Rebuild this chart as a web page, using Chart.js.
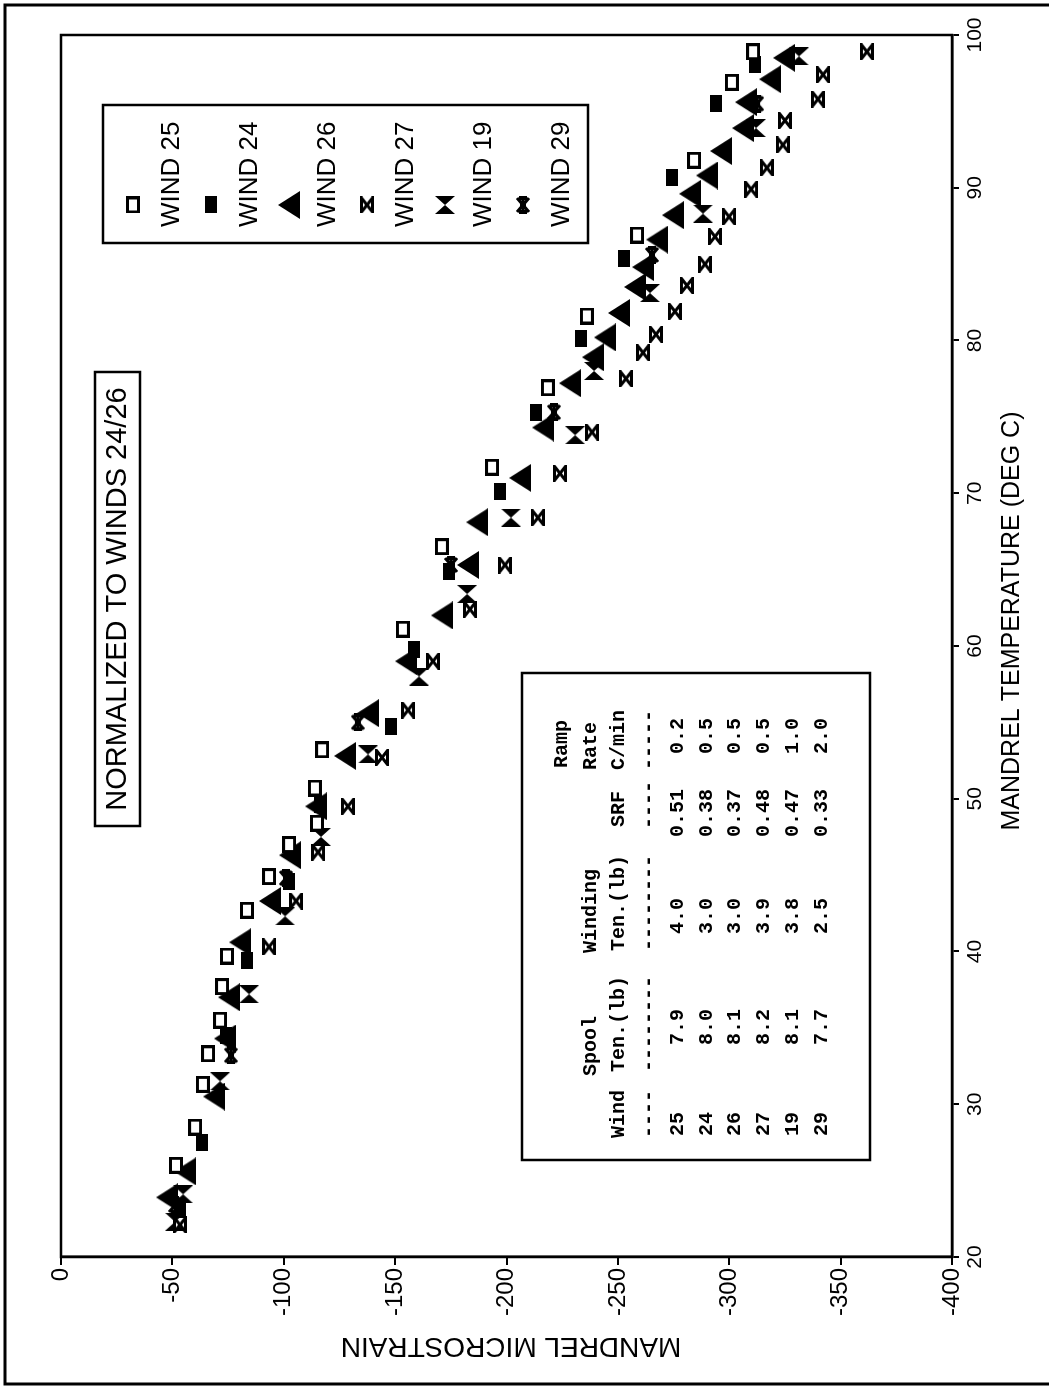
<!DOCTYPE html>
<html>
<head>
<meta charset="utf-8">
<script src="https://cdn.jsdelivr.net/npm/chart.js"></script>
<style>
  html, body { margin: 0; padding: 0; background: #fff; overflow: hidden; }
  /* chart is drawn upright, then the whole sheet is turned a quarter turn */
  #page { position: absolute; left: 0; top: 0; width: 1386px; height: 1049px;
          transform-origin: 0 0; transform: translateY(1386px) rotate(-90deg); }
</style>
</head>
<body>
<div id="page"><canvas id="Chart" width="1386" height="1049"></canvas></div>
<script>
// mandrel temperature (deg C) / mandrel microstrain per wind
const wind25Temp = [26.0, 28.5, 31.3, 33.3, 35.5, 37.7, 39.7, 42.7, 44.9, 47.0, 48.4, 50.7, 53.2, 61.1, 66.5, 71.7, 76.9, 81.6, 86.9, 91.8, 96.9, 98.9];
const wind25Strain = [-51.6, -60.2, -63.7, -66.0, -71.4, -72.3, -74.5, -83.5, -93.4, -102.4, -114.9, -114.0, -117.2, -153.5, -171.0, -193.5, -218.6, -236.1, -258.6, -284.2, -301.2, -310.7];

const wind24Temp = [23.1, 27.5, 34.5, 39.4, 44.6, 49.6, 54.7, 59.8, 64.9, 70.1, 75.3, 80.1, 85.4, 90.7, 95.5, 98.1];
const wind24Strain = [-53.4, -63.1, -74.1, -83.5, -102.4, -116.3, -148.1, -158.5, -174.2, -197.1, -213.2, -233.4, -252.7, -274.3, -294.0, -311.6];

const wind26Temp = [23.9, 25.6, 30.5, 34.3, 37.0, 40.6, 43.3, 46.3, 49.5, 52.8, 55.6, 59.0, 62.0, 65.3, 68.1, 71.0, 74.3, 77.2, 78.9, 80.2, 81.8, 83.5, 84.8, 86.6, 88.2, 89.6, 90.8, 92.4, 93.9, 95.6, 97.1, 98.5];
const wind26Strain = [-47.6, -55.7, -68.7, -73.6, -75.4, -80.4, -93.8, -102.8, -114.5, -127.5, -137.8, -154.9, -171.0, -182.7, -186.8, -206.1, -216.4, -228.5, -238.8, -244.2, -250.5, -257.7, -261.3, -267.6, -274.7, -282.4, -290.0, -296.3, -306.2, -307.5, -318.3, -324.6];

const wind27Temp = [22.1, 40.3, 43.3, 46.5, 49.5, 52.7, 55.8, 59.0, 62.4, 65.3, 68.4, 71.3, 74.0, 77.5, 79.2, 80.4, 81.9, 83.6, 85.0, 86.8, 88.1, 89.9, 91.3, 92.8, 94.4, 95.8, 97.4, 98.9];
const wind27Strain = [-53.4, -93.4, -105.5, -115.4, -128.8, -144.1, -155.8, -167.0, -183.6, -199.3, -214.1, -224.0, -238.4, -253.6, -261.3, -267.1, -275.6, -281.0, -289.1, -293.6, -299.9, -309.8, -316.9, -324.1, -325.0, -339.8, -342.1, -361.8];

const wind19Temp = [22.3, 24.1, 31.5, 37.2, 42.3, 47.5, 52.9, 58.0, 63.4, 68.4, 73.8, 78.0, 83.1, 88.3, 93.9, 98.6];
const wind19Strain = [-51.2, -54.8, -71.4, -84.4, -100.6, -116.7, -137.8, -160.7, -182.3, -202.0, -230.8, -239.3, -264.4, -288.2, -312.0, -331.3];

const wind29Temp = [23.4, 33.2, 44.8, 55.0, 65.3, 75.3, 85.6, 95.5];
const wind29Strain = [-51.2, -76.3, -101.0, -133.3, -175.1, -221.3, -265.3, -312.5];

const windLabels = ["WIND 25", "WIND 24", "WIND 26", "WIND 27", "WIND 19", "WIND 29"];
const tempTicks = [20, 30, 40, 50, 60, 70, 80, 90, 100];
const strainTicks = [0, -50, -100, -150, -200, -250, -300, -350, -400];

// inset table
const tableWind = ["25", "24", "26", "27", "19", "29"];
const tableSpool = ["7.9", "8.0", "8.1", "8.2", "8.1", "7.7"];
const tableWinding = ["4.0", "3.0", "3.0", "3.9", "3.8", "2.5"];
const tableSrf = ["0.51", "0.38", "0.37", "0.48", "0.47", "0.33"];
const tableRamp = ["0.2", "0.5", "0.5", "0.5", "1.0", "2.0"];

const noteText = "NORMALIZED TO WINDS 24/26";
const xTitle = "MANDREL TEMPERATURE (DEG C)";
const yTitle = "MANDREL MICROSTRAIN";

const SANS = '"Liberation Sans", Arial, sans-serif';
const MONO = '"Liberation Mono", "Courier New", monospace';

function marker(w, h, draw) {
  const c = document.createElement("canvas");
  c.width = w;
  c.height = h;
  const g = c.getContext("2d");
  g.fillStyle = "#000";
  g.strokeStyle = "#000";
  draw(g, w, h);
  return c;
}

const openSquare = marker(17, 14, (g, w, h) => {
  g.fillStyle = "#fff";
  g.fillRect(0, 0, w, h);
  g.lineWidth = 3;
  g.strokeRect(1.5, 1.5, w - 3, h - 3);
});
const filledSquare = marker(17, 12, (g, w, h) => g.fillRect(0, 0, w, h));
const triangle = marker(28, 22, (g, w, h) => {
  g.beginPath();
  g.moveTo(w / 2, 0);
  g.lineTo(w, h);
  g.lineTo(0, h);
  g.closePath();
  g.fill();
});
const hourglass = marker(17, 14, (g, w, h) => {
  g.lineWidth = 3;
  g.beginPath();
  g.moveTo(1.5, 1.5);
  g.lineTo(w - 1.5, 1.5);
  g.lineTo(1.5, h - 1.5);
  g.lineTo(w - 1.5, h - 1.5);
  g.closePath();
  g.fillStyle = "#fff";
  g.fill();
  g.stroke();
});
const bowtie = marker(18, 20, (g, w, h) => {
  g.beginPath();
  g.moveTo(0, 0);
  g.lineTo(w, h);
  g.lineTo(w, 0);
  g.lineTo(0, h);
  g.closePath();
  g.fill();
});
const asterisk = marker(18, 14, (g, w, h) => {
  g.lineWidth = 3;
  g.beginPath();
  g.moveTo(0, h / 2); g.lineTo(w, h / 2);
  g.moveTo(2, 1); g.lineTo(w - 2, h - 1);
  g.moveTo(w - 2, 1); g.lineTo(2, h - 1);
  g.stroke();
  g.fillRect(0, 3, 4, h - 6);
  g.fillRect(w - 4, 3, 4, h - 6);
  g.fillRect(w / 2 - 3, h / 2 - 3, 6, 6);
});

const markers = [openSquare, filledSquare, triangle, hourglass, bowtie, asterisk];
const temps = [wind25Temp, wind24Temp, wind26Temp, wind27Temp, wind19Temp, wind29Temp];
const strains = [wind25Strain, wind24Strain, wind26Strain, wind27Strain, wind19Strain, wind29Strain];

const datasets = windLabels.map((label, i) => ({
  label: label,
  data: temps[i].map((t, k) => ({ x: t, y: strains[i][k] })),
  pointStyle: markers[i],
  pointRadius: 8,
  showLine: false,
}));

const sheet = {
  id: "sheet",
  afterDraw(chart) {
    const ctx = chart.ctx;
    const a = chart.chartArea;
    ctx.save();
    ctx.strokeStyle = "#000";
    ctx.fillStyle = "#000";

    // plot frame
    ctx.lineWidth = 2.5;
    ctx.strokeRect(a.left, a.top, a.right - a.left, a.bottom - a.top);

    // outer sheet frame
    ctx.lineWidth = 3;
    ctx.beginPath();
    ctx.moveTo(2, 1049);
    ctx.lineTo(2, 5);
    ctx.lineTo(1381, 5);
    ctx.lineTo(1381, 1049);
    ctx.stroke();

    // axis titles
    ctx.textAlign = "center";
    ctx.textBaseline = "middle";
    ctx.font = "25px " + SANS;
    ctx.fillText(xTitle, 765, 1012);
    ctx.save();
    ctx.translate(40, 511);
    ctx.rotate(-Math.PI / 2);
    ctx.font = "28px " + SANS;
    ctx.fillText(yTitle, 0, 0);
    ctx.restore();

    // note box
    ctx.lineWidth = 2.5;
    ctx.strokeRect(560, 95, 454, 45);
    ctx.font = "29px " + SANS;
    ctx.fillText(noteText, 787, 118);

    // legend
    ctx.strokeRect(1143, 103, 138, 485);
    ctx.textAlign = "left";
    ctx.font = "26px " + SANS;
    chart.data.datasets.forEach((ds, i) => {
      const m = ds.pointStyle;
      const sy = 133 + i * 78;
      ctx.drawImage(m, 1181 - m.width / 2, sy - m.height / 2);
      ctx.fillText(ds.label, 1159, sy + 39);
    });

    // table
    ctx.strokeRect(226, 522, 487, 348);
    ctx.font = "bold 20px " + MONO;
    const put = (s, x, y) => ctx.fillText(s, x, y);
    put("Ramp", 618, 562);
    put("Spool", 310, 591);
    put("Winding", 433, 591);
    put("Rate", 616, 591);
    put("Wind", 248, 619);
    put("Ten.(lb)", 314, 619);
    put("Ten.(lb)", 435, 619);
    put("SRF", 559, 619);
    put("C/min", 616, 619);
    put("----", 248, 649);
    put("--------", 314, 649);
    put("--------", 435, 649);
    put("----", 557, 649);
    put("-----", 616, 649);
    const rowY = [678, 707, 735, 764, 793, 822];
    tableWind.forEach((w, r) => {
      put(w, 250, rowY[r]);
      put(tableSpool[r], 341, rowY[r]);
      put(tableWinding[r], 452, rowY[r]);
      put(tableSrf[r], 549, rowY[r]);
      put(tableRamp[r], 632, rowY[r]);
    });
    ctx.restore();
  },
};

new Chart(document.getElementById("Chart"), {
  type: "scatter",
  data: { datasets: datasets },
  plugins: [sheet],
  options: {
    responsive: false,
    animation: false,
    devicePixelRatio: 1,
    layout: { padding: { left: 0, top: 61, right: 35, bottom: 0 } },
    plugins: { legend: { display: false }, tooltip: { enabled: false } },
    scales: {
      x: {
        type: "linear",
        min: 20,
        max: 100,
        afterBuildTicks: (s) => { s.ticks = tempTicks.map((v) => ({ value: v })); },
        afterFit: (s) => { s.height = 97; },
        ticks: { color: "#000", font: { size: 21, family: SANS }, padding: 4, maxRotation: 0, autoSkip: false },
        grid: { drawOnChartArea: false, drawTicks: true, tickLength: 7, color: "#000", lineWidth: 2 },
        border: { display: true, color: "#000", width: 2.5 },
      },
      y: {
        type: "linear",
        min: -400,
        max: 0,
        afterBuildTicks: (s) => { s.ticks = strainTicks.map((v) => ({ value: v })); },
        afterFit: (s) => { s.width = 129; },
        ticks: { color: "#000", font: { size: 24, family: SANS }, padding: 3, autoSkip: false },
        grid: { drawOnChartArea: false, drawTicks: true, tickLength: 8, color: "#000", lineWidth: 2 },
        border: { display: true, color: "#000", width: 2.5 },
      },
    },
  },
});
</script>
</body>
</html>
